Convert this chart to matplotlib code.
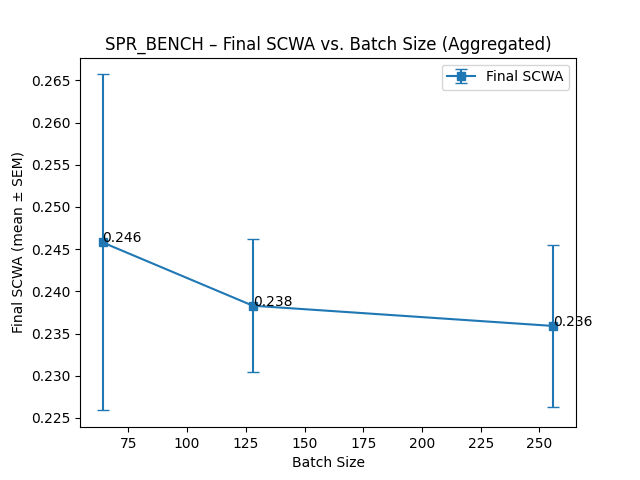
import matplotlib.pyplot as plt
import numpy as np

batch_sizes = [64, 128, 256]
scwa_mean = [0.2458, 0.2383, 0.2359]
scwa_sem = [0.0199, 0.0079, 0.0096]

plt.figure(figsize=(6.4, 4.8), dpi=100)
plt.errorbar(batch_sizes, scwa_mean, yerr=scwa_sem, fmt="-s", capsize=4, label="Final SCWA")
for bs, m in zip(batch_sizes, scwa_mean):
    plt.text(bs, m, f"{m:.3f}")
plt.xlabel("Batch Size")
plt.ylabel("Final SCWA (mean ± SEM)")
plt.title("SPR_BENCH – Final SCWA vs. Batch Size (Aggregated)")
plt.legend()
plt.savefig("out.png")
